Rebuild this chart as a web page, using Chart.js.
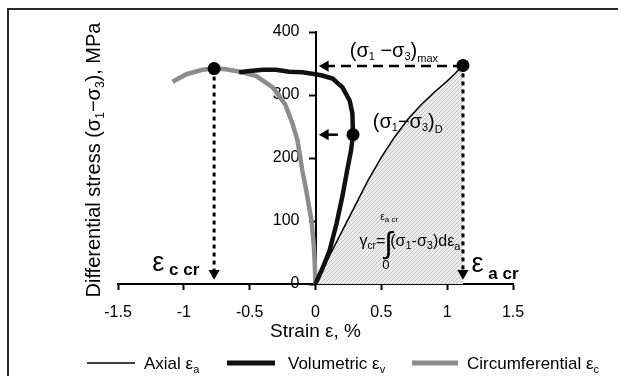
<!DOCTYPE html>
<html>
<head>
<meta charset="utf-8">
<script src="https://cdn.jsdelivr.net/npm/chart.js@4.4.0/dist/chart.umd.min.js"></script>
<style>
  body { margin: 0; background: #fff; }
</style>
</head>
<body>
<canvas id="stressChart" width="618" height="376"></canvas>
<script>
const FONT = '"Liberation Sans", Arial, sans-serif';

// strain (%) vs differential stress (MPa)
const axialStrain = [0, 0.1, 0.2, 0.3, 0.4, 0.5, 0.6, 0.7, 0.8, 0.9, 1.0, 1.06, 1.12];
const axialStress = [0, 42, 83, 124, 165, 201, 233, 261, 284, 304, 322, 334, 347];

const volStrain = [0, 0.053, 0.107, 0.16, 0.205, 0.24, 0.27, 0.285, 0.28, 0.26, 0.205, 0.13, 0.05, 0, -0.1, -0.2, -0.3, -0.4, -0.5, -0.58];
const volStress = [0, 25, 53, 96, 140, 180, 212, 237, 271, 291, 312, 326, 331, 333, 336, 337, 340, 340, 338, 336];

const circStrain = [0, -0.005, -0.012, -0.03, -0.07, -0.1, -0.137, -0.175, -0.23, -0.325, -0.45, -0.577, -0.68, -0.77, -0.86, -0.98, -1.086];
const circStress = [0, 30, 60, 100, 148, 180, 228, 255, 285, 312, 330, 337, 341, 342, 340, 333, 321];

// marked points: circumferential crit, damage onset, peak
const critStrain = [-0.77, 0.285, 1.12];
const critStress = [342, 237, 347];

const toPts = (xs, ys) => xs.map((x, i) => ({ x: x, y: ys[i] }));

// hatch pattern for the area under the axial curve
const pc = document.createElement('canvas');
pc.width = 4; pc.height = 4;
const pctx = pc.getContext('2d');
pctx.fillStyle = '#ededed';
pctx.fillRect(0, 0, 4, 4);
pctx.strokeStyle = '#c2c2c2';
pctx.lineWidth = 1;
pctx.beginPath();
pctx.moveTo(0, 4); pctx.lineTo(4, 0);
pctx.moveTo(-1, 1); pctx.lineTo(1, -1);
pctx.moveTo(3, 5); pctx.lineTo(5, 3);
pctx.stroke();

const ctx = document.getElementById('stressChart').getContext('2d');
const hatch = ctx.createPattern(pc, 'repeat');

// draws a run of text pieces [text, size, dy, bold] and returns end x
function drawRich(c, x, y, parts, align) {
  let w = 0;
  parts.forEach(p => {
    c.font = (p[3] ? 'bold ' : '') + p[1] + 'px ' + FONT;
    w += c.measureText(p[0]).width;
  });
  let cx = align === 'center' ? x - w / 2 : x;
  parts.forEach(p => {
    c.font = (p[3] ? 'bold ' : '') + p[1] + 'px ' + FONT;
    c.fillText(p[0], cx, y + (p[2] || 0));
    cx += c.measureText(p[0]).width;
  });
  return cx;
}

const extras = {
  id: 'extras',
  afterDraw(chart) {
    const c = chart.ctx;
    const xs = chart.scales.x, ys = chart.scales.y;
    c.save();
    c.textBaseline = 'alphabetic';

    // frame
    c.fillStyle = '#2a2a2a';
    c.fillRect(7, 8, 611, 2);
    c.fillRect(7, 8, 2, 368);
    c.fillStyle = '#000';

    // y title
    c.save();
    c.translate(100, 160);
    c.rotate(-Math.PI / 2);
    drawRich(c, 0, 0, [['Differential stress (σ', 20], ['1', 12, 4], ['−σ', 20], ['3', 12, 4], ['), MPa', 20]], 'center');
    c.restore();

    // (σ1−σ3)max
    drawRich(c, xs.getPixelForValue(0.26), ys.getPixelForValue(360),
      [['(σ', 20], ['1', 11, 3], [' −σ', 20], ['3', 11, 3], [')', 20], ['max', 11, 5]]);
    // (σ1−σ3)D
    drawRich(c, xs.getPixelForValue(0.435), ys.getPixelForValue(247),
      [['(σ', 20], ['1', 11, 3], ['−σ', 20], ['3', 11, 3], [')', 20], ['D', 11, 5]]);

    // integral
    const ix = xs.getPixelForValue(0.335), iy = ys.getPixelForValue(60);
    let cx = drawRich(c, ix, iy, [['γ', 16], ['cr', 10, 3], ['=', 16]]);
    c.font = '30px ' + FONT;
    c.fillText('∫', cx - 1, iy + 7);
    drawRich(c, cx - 5, iy - 26, [['ε', 10], ['a cr', 8, 2]]);
    drawRich(c, cx - 3, iy + 23, [['0', 13]]);
    drawRich(c, cx + 5, iy, [['(σ', 16], ['1', 11, 3], ['-σ', 16], ['3', 11, 3], [')dε', 16], ['a', 11, 4]]);

    // critical strain labels
    drawRich(c, xs.getPixelForValue(-1.24), ys.getPixelForValue(21), [['ε', 27], [' c cr', 17, 4, true]]);
    drawRich(c, xs.getPixelForValue(1.185), ys.getPixelForValue(19), [['ε', 27], [' a cr', 17, 7, true]]);

    // legend
    const ly = 363;
    c.lineCap = 'butt';
    c.strokeStyle = '#000'; c.lineWidth = 1.5;
    c.beginPath(); c.moveTo(87, ly); c.lineTo(135, ly); c.stroke();
    drawRich(c, 144, ly + 6, [['Axial ε', 17], ['a', 11, 4]]);
    c.strokeStyle = '#111'; c.lineWidth = 5;
    c.beginPath(); c.moveTo(227, ly); c.lineTo(275, ly); c.stroke();
    drawRich(c, 288, ly + 6, [['Volumetric ε', 17], ['v', 11, 4]]);
    c.strokeStyle = '#8c8c8c'; c.lineWidth = 5;
    c.beginPath(); c.moveTo(412, ly); c.lineTo(458, ly); c.stroke();
    drawRich(c, 467, ly + 6, [['Circumferential ε', 17], ['c', 11, 4]]);

    c.restore();
  }
};

const guide = { showLine: true, pointRadius: 0, borderColor: '#000', fill: false };

new Chart(ctx, {
  type: 'scatter',
  data: {
    datasets: [
      {
        label: 'critical points',
        data: toPts(critStrain, critStress),
        pointRadius: 6.5,
        pointBackgroundColor: '#000',
        pointBorderColor: '#000',
        pointBorderWidth: 0
      },
      {
        label: 'arrowheads',
        data: [{ x: 0.075, y: critStress[2] - 1 }, { x: 0.075, y: critStress[1] }, { x: critStrain[0], y: 17 }, { x: critStrain[2], y: 17 }],
        pointStyle: 'triangle',
        pointRotation: [-90, -90, 180, 180],
        pointRadius: 6.5,
        pointBackgroundColor: '#000',
        pointBorderColor: '#000',
        pointBorderWidth: 0
      },
      Object.assign({ label: 'max', data: [{ x: critStrain[2], y: critStress[2] - 1 }, { x: 0.09, y: critStress[2] - 1 }], borderWidth: 2.5, borderDash: [10, 6] }, guide),
      Object.assign({ label: 'onset', data: [{ x: 0.17, y: critStress[1] }, { x: 0.09, y: critStress[1] }], borderWidth: 2.5 }, guide),
      Object.assign({ label: 'c cr', data: [{ x: critStrain[0], y: critStress[0] }, { x: critStrain[0], y: 20 }], borderWidth: 3, borderDash: [4, 4] }, guide),
      Object.assign({ label: 'a cr', data: [{ x: critStrain[2], y: critStress[2] }, { x: critStrain[2], y: 20 }], borderWidth: 3, borderDash: [4, 4] }, guide),
      {
        label: 'Volumetric',
        data: toPts(volStrain, volStress),
        showLine: true, pointRadius: 0,
        borderColor: '#111', borderWidth: 4.5
      },
      {
        label: 'Circumferential',
        data: toPts(circStrain, circStress),
        showLine: true, pointRadius: 0,
        borderColor: '#8c8c8c', borderWidth: 4.5
      },
      {
        label: 'Axial',
        data: toPts(axialStrain, axialStress),
        showLine: true, pointRadius: 0,
        borderColor: '#000', borderWidth: 1.5,
        fill: 'origin', backgroundColor: hatch
      }
    ]
  },
  options: {
    responsive: false,
    animation: false,
    devicePixelRatio: 1,
    events: [],
    layout: { padding: { left: 118, right: 105, top: 32, bottom: 35 } },
    plugins: { legend: { display: false }, tooltip: { enabled: false } },
    scales: {
      x: {
        type: 'linear',
        min: -1.5, max: 1.5,
        ticks: {
          stepSize: 0.5, color: '#000', padding: 15,
          font: { family: FONT, size: 16, lineHeight: 1 },
          callback: v => String(v)
        },
        grid: { drawOnChartArea: false, drawTicks: true, tickLength: 6, tickWidth: 2, tickColor: '#000' },
        border: { display: true, color: '#000', width: 2 },
        title: { display: true, text: 'Strain ε, %', color: '#000', padding: { top: -14, bottom: 0 }, font: { family: FONT, size: 19, lineHeight: 1 } }
      },
      y: {
        type: 'linear',
        position: 'center',
        min: 0, max: 400,
        ticks: { stepSize: 100, color: '#000', padding: 10, font: { family: FONT, size: 16 } },
        grid: { drawOnChartArea: false, drawTicks: true, tickLength: 6, tickWidth: 2, tickColor: '#000' },
        border: { display: true, color: '#000', width: 2 }
      }
    }
  },
  plugins: [extras]
});
</script>
</body>
</html>
